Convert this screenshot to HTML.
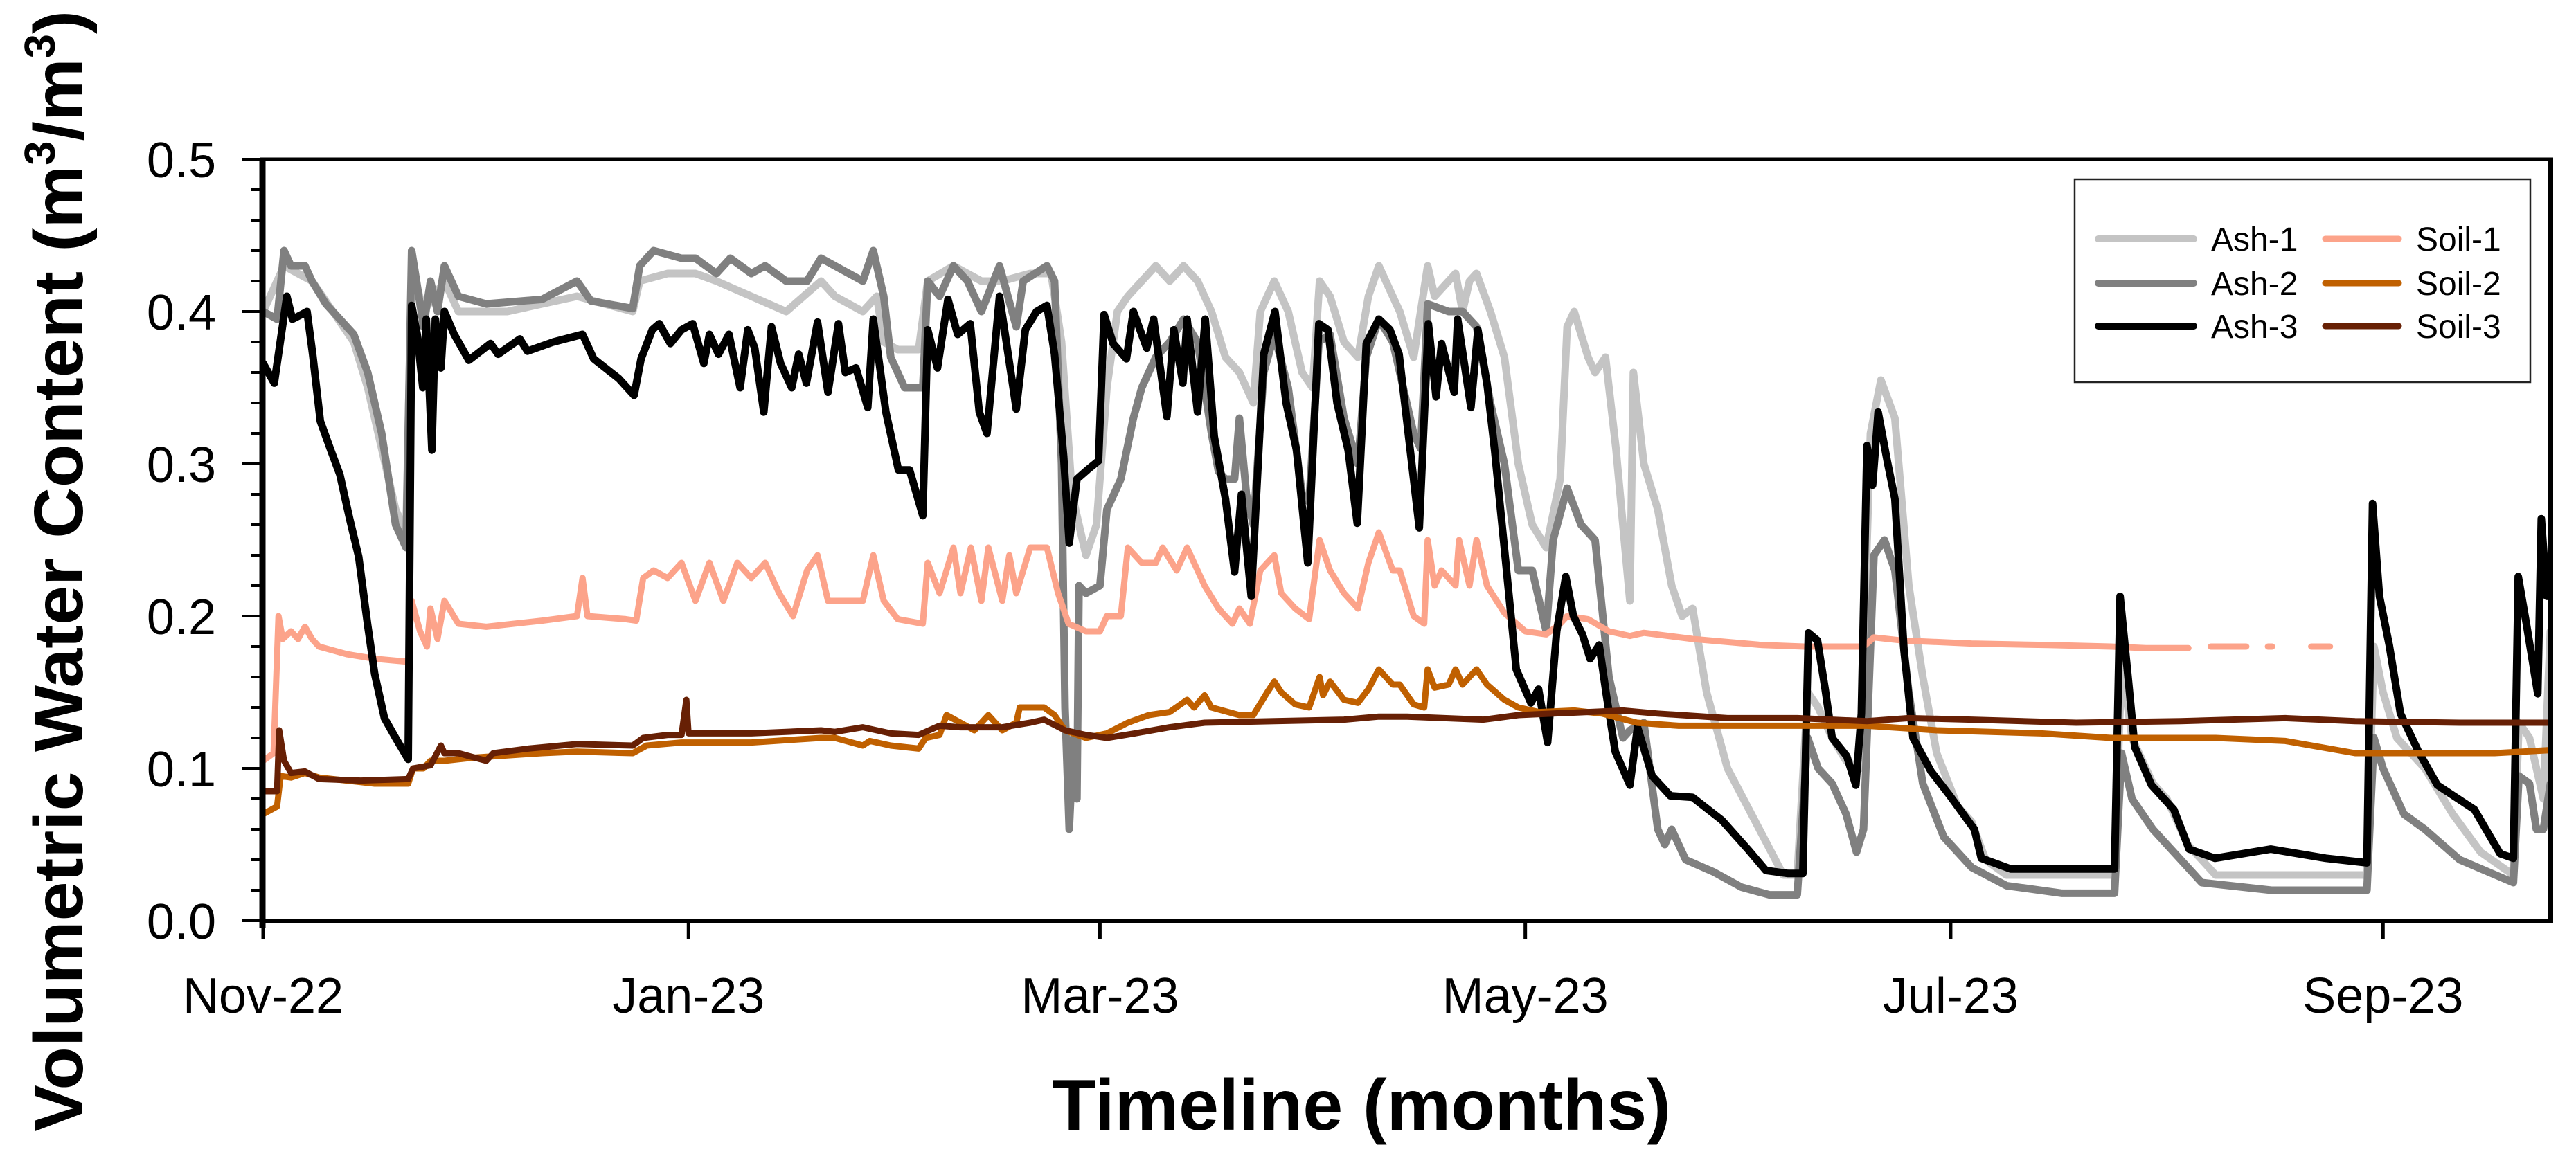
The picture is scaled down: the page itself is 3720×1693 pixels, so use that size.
<!DOCTYPE html>
<html><head><meta charset="utf-8"><style>
html,body{margin:0;padding:0;background:#fff;}
svg{display:block;font-family:"Liberation Sans",Arial,sans-serif;}
</style></head><body>
<svg id="chart" width="3720" height="1693" viewBox="0 0 3720 1693" xmlns="http://www.w3.org/2000/svg">
<defs><clipPath id="plotclip"><rect x="383" y="232" width="3296" height="1096"/></clipPath></defs>
<rect width="3720" height="1693" fill="#fff"/>
<g id="series" clip-path="url(#plotclip)"></g>
<g id="axes"></g>
<text x="1966" y="1632" font-size="104" font-weight="bold" text-anchor="middle">Timeline (months)</text>
<text transform="translate(119,825) rotate(-90)" font-size="100" font-weight="bold" text-anchor="middle" textLength="1620" lengthAdjust="spacingAndGlyphs">Volumetric Water Content (m<tspan font-size="62" dy="-40">3</tspan><tspan dy="40">/m</tspan><tspan font-size="62" dy="-40">3</tspan><tspan dy="40">)</tspan></text>
<g>
<rect x="2996" y="259" width="658" height="293" fill="#fff" stroke="#222" stroke-width="2.5"/>
<line x1="3030" y1="345" x2="3168" y2="345" stroke="#c4c4c4" stroke-width="10" stroke-linecap="round"/>
<text x="3193" y="362" font-size="48">Ash-1</text>
<line x1="3030" y1="409" x2="3168" y2="409" stroke="#808080" stroke-width="10" stroke-linecap="round"/>
<text x="3193" y="426" font-size="48">Ash-2</text>
<line x1="3030" y1="471" x2="3168" y2="471" stroke="#000" stroke-width="10" stroke-linecap="round"/>
<text x="3193" y="488" font-size="48">Ash-3</text>
<line x1="3358" y1="345" x2="3464" y2="345" stroke="#fca38a" stroke-width="9" stroke-linecap="round"/>
<text x="3489" y="362" font-size="48">Soil-1</text>
<line x1="3358" y1="409" x2="3464" y2="409" stroke="#c06000" stroke-width="9" stroke-linecap="round"/>
<text x="3489" y="426" font-size="48">Soil-2</text>
<line x1="3358" y1="471" x2="3464" y2="471" stroke="#672005" stroke-width="9" stroke-linecap="round"/>
<text x="3489" y="488" font-size="48">Soil-3</text>
</g>
</svg>
<script>
// ---- data (day index from 1 Nov 2022, VWC m3/m3) ----
const xTickDays = [0, 61, 120, 181, 242, 304];
const xTickLabels = ["Nov-22", "Jan-23", "Mar-23", "May-23", "Jul-23", "Sep-23"];
const yTickValues = [0, 0.1, 0.2, 0.3, 0.4, 0.5];
const yTickLabels = ["0.0", "0.1", "0.2", "0.3", "0.4", "0.5"];

const ash1Days = [0,3,7,10,13,15,17,19,20.5,21.3,23,26,28,35,45,53,54,58,62,65,70,75,80,82,86,88,89,91,94,95.3,99,103,106,110,113,114.5,116,118,119.5,121,122.5,124,126,128,130,132,134,136,138,140,142,143,145,147,149,150.5,151.5,153,155,157,158.5,160,162,163,165,167,168,170,171,172,173,174,176,178,180,182,184,186,187,188,190,191,192.5,194,196,196.5,198,200,202,203.5,205,207,210,214,218,220,221.5,223,225,227,229,230.5,232,234,236,238,240,243,245,247,250,265.5,266.5,268,271,273,276,280,290,301.7,302.7,304,306,310,314,318,322.7,323.5,325,327,328];
const ash1Vals = [0.40,0.43,0.42,0.40,0.38,0.35,0.31,0.27,0.255,0.43,0.40,0.42,0.40,0.40,0.41,0.40,0.42,0.425,0.425,0.42,0.41,0.40,0.42,0.41,0.40,0.41,0.38,0.375,0.375,0.42,0.43,0.42,0.42,0.425,0.425,0.38,0.28,0.24,0.26,0.35,0.40,0.41,0.42,0.43,0.42,0.43,0.42,0.40,0.37,0.36,0.34,0.40,0.42,0.40,0.36,0.35,0.42,0.41,0.38,0.37,0.41,0.43,0.41,0.40,0.37,0.43,0.41,0.42,0.425,0.40,0.42,0.425,0.40,0.37,0.30,0.26,0.245,0.29,0.39,0.40,0.37,0.36,0.37,0.31,0.21,0.36,0.30,0.27,0.22,0.20,0.205,0.15,0.10,0.065,0.03,0.03,0.15,0.14,0.12,0.105,0.10,0.32,0.355,0.33,0.22,0.16,0.11,0.075,0.065,0.04,0.03,0.03,0.17,0.12,0.09,0.08,0.05,0.03,0.03,0.03,0.18,0.15,0.12,0.10,0.07,0.045,0.03,0.13,0.12,0.08,0.19];

const ash2Days = [0,2,3,4,5,6,7,9,11,13,15,17,18,19,20.5,21.3,22,23,24,25,26,28,32,40,45,47,53,54,56,60,62,65,67,70,72,75,78,80,82,86,87.5,89,90,92,94.6,95.3,97,99,101,103,105.6,108,109,112.4,113.5,114.5,115,115.6,116.2,116.7,117,118,120,121,123,124.8,126,128,130,132,134,136,137,138,139.3,140,141,142,143.5,145,147,149,150,151.4,153,155,157,158.2,160,162,163,165,166,167,170,172,174,176,178,180,182,184,185,187,189,191,193,195,196,198,200,201,202,204,208,212,216,220,221.5,223,225,227,228.5,229.5,231,232.5,234,236,238,241,245,250,258,265.5,266.5,268,271,274,278,288,301.7,302.7,304,307,310,315,322.7,323.5,325,326,327,328];
const ash2Vals = [0.40,0.395,0.44,0.43,0.43,0.43,0.42,0.405,0.395,0.385,0.36,0.32,0.29,0.26,0.245,0.44,0.42,0.39,0.42,0.40,0.43,0.41,0.405,0.408,0.42,0.407,0.402,0.43,0.44,0.435,0.435,0.425,0.435,0.425,0.43,0.42,0.42,0.435,0.43,0.42,0.44,0.41,0.37,0.35,0.35,0.42,0.41,0.43,0.42,0.40,0.43,0.39,0.42,0.43,0.42,0.30,0.14,0.06,0.12,0.08,0.22,0.215,0.22,0.27,0.29,0.33,0.35,0.37,0.38,0.395,0.38,0.32,0.295,0.29,0.29,0.33,0.28,0.26,0.36,0.385,0.35,0.28,0.275,0.38,0.385,0.33,0.30,0.37,0.395,0.38,0.36,0.32,0.31,0.405,0.40,0.40,0.39,0.34,0.30,0.23,0.23,0.19,0.25,0.284,0.26,0.25,0.16,0.12,0.125,0.13,0.06,0.05,0.06,0.04,0.032,0.022,0.017,0.017,0.12,0.10,0.09,0.07,0.045,0.06,0.24,0.25,0.23,0.15,0.09,0.055,0.035,0.023,0.018,0.018,0.11,0.08,0.06,0.045,0.025,0.02,0.02,0.12,0.10,0.07,0.06,0.04,0.025,0.095,0.09,0.06,0.06,0.09];

const ash3Days = [0,1.6,3.4,4.2,5.5,6.3,7.1,8.2,9.7,11,12.4,13.7,15,16,17.4,19,20.8,21.3,22.1,22.9,23.4,24.2,24.7,25.5,26,27.4,29.5,32.6,33.7,36.8,37.9,41.6,45.8,47.4,51,53.2,54.2,55.8,56.8,58.4,60,61.6,63.2,64,65.3,66.8,68.4,69.5,70.5,71.8,72.9,74.2,75.8,76.8,77.9,79.5,81,82.5,83.5,85,86.7,87.5,89.3,91.1,92.7,94.6,95.3,96.7,98.2,99.6,101.4,102.7,103.8,105.6,108,109.3,110.9,112.4,113.5,114.8,115.6,116.7,118.2,119.8,120.6,121.9,123.8,124.8,126.7,127.7,129.6,130.6,131.9,132.5,134,135.1,136.4,138,139.3,140.3,141.7,143.5,145.1,146.7,148.2,149.8,151.4,152.7,154,155.6,156.9,158.2,160,161.6,162.9,164.5,165.8,167.1,168.2,169,170.8,171.3,173.2,174.2,175.5,176.6,178.2,179.7,181.8,182.9,184.2,185.5,186.8,187.9,189.2,190.3,191.6,192.6,193.9,196,197.1,199.2,201.8,205,209.2,212.9,215.5,218.7,220.8,221.6,222.9,224,225,227.1,228.4,229.2,230,230.8,231.6,232.9,234,235.3,236.6,239.2,241.9,245.4,246.4,250.6,258.6,265.5,266.3,267.4,268.4,270.8,274,276.2,279.9,287.9,295.8,301.7,302.5,303.5,304.9,306.5,309.1,311.8,317.1,320.8,322.7,323.4,324.6,326.2,326.7,327.5];
const ash3Vals = [0.366,0.353,0.41,0.395,0.398,0.40,0.372,0.328,0.309,0.293,0.264,0.239,0.194,0.162,0.133,0.12,0.106,0.404,0.385,0.35,0.395,0.309,0.395,0.363,0.40,0.385,0.368,0.379,0.372,0.382,0.374,0.38,0.385,0.369,0.356,0.345,0.369,0.388,0.392,0.379,0.388,0.392,0.366,0.385,0.372,0.385,0.35,0.388,0.376,0.334,0.39,0.366,0.35,0.372,0.353,0.393,0.347,0.392,0.36,0.363,0.337,0.395,0.334,0.296,0.296,0.266,0.388,0.363,0.408,0.385,0.392,0.334,0.32,0.41,0.336,0.388,0.40,0.404,0.372,0.305,0.248,0.29,0.296,0.302,0.398,0.379,0.369,0.40,0.376,0.395,0.331,0.388,0.353,0.395,0.334,0.395,0.318,0.277,0.229,0.28,0.213,0.372,0.40,0.34,0.309,0.235,0.392,0.388,0.34,0.309,0.261,0.379,0.395,0.388,0.372,0.309,0.258,0.392,0.344,0.379,0.347,0.395,0.337,0.388,0.353,0.309,0.235,0.165,0.143,0.152,0.117,0.19,0.226,0.20,0.188,0.172,0.181,0.149,0.111,0.089,0.127,0.095,0.082,0.081,0.066,0.047,0.033,0.031,0.031,0.189,0.184,0.152,0.12,0.108,0.089,0.136,0.312,0.286,0.334,0.302,0.277,0.178,0.12,0.098,0.082,0.06,0.041,0.034,0.034,0.034,0.213,0.162,0.114,0.089,0.073,0.047,0.041,0.047,0.041,0.038,0.274,0.213,0.181,0.136,0.111,0.089,0.073,0.044,0.041,0.226,0.194,0.149,0.264,0.213];

// NaN marks a gap in the logged record
const soil1Days = [0,1.5,2.2,2.8,4,5,6,7,8,12,16,20.8,21.3,22.5,23.5,24,25,26,28,32,40,45,45.8,46.5,52,53.5,54.5,56,58,60,62,64,66,68,70,72,74,76,78,79.5,81,84,86,87.5,89,91,94.6,95.3,97,99,100,101.5,103,104,106,107,108,110,112.4,114,115.5,118,120,121,123,124,126,128,129,131,132.5,135,137,139,140,141.5,143,145,146,148,150,151.5,153,155,157,158.5,160,162,163,165,166.5,167,168,169,171,171.5,173,174,175.5,178,181,184,186,187,190,193,196,198,205,215,221,229.5,231,235,245,256,265,270,276.1,277,279.3,284.4,286,287.5,288.1,290,293.7,296.4];
const soil1Vals = [0.105,0.11,0.20,0.185,0.19,0.185,0.193,0.185,0.18,0.175,0.172,0.17,0.21,0.19,0.18,0.205,0.185,0.21,0.195,0.193,0.197,0.20,0.225,0.20,0.198,0.197,0.225,0.23,0.225,0.235,0.21,0.235,0.21,0.235,0.225,0.235,0.215,0.20,0.23,0.24,0.21,0.21,0.21,0.24,0.21,0.198,0.195,0.235,0.215,0.245,0.215,0.245,0.21,0.245,0.21,0.24,0.215,0.245,0.245,0.215,0.195,0.19,0.19,0.20,0.20,0.245,0.235,0.235,0.245,0.23,0.245,0.22,0.205,0.195,0.205,0.195,0.23,0.24,0.215,0.205,0.198,0.25,0.23,0.215,0.205,0.235,0.255,0.23,0.23,0.20,0.195,0.25,0.22,0.23,0.22,0.25,0.22,0.25,0.22,0.202,0.19,0.188,0.195,0.20,0.198,0.19,0.187,0.189,0.185,0.181,0.180,0.180,0.186,0.184,0.182,0.181,0.180,0.179,0.179,NaN,0.180,0.180,NaN,0.180,0.180,NaN,0.180,0.180];

const soil2Days = [0,2,2.5,4,6,8,12,16,20.8,21.5,23,24,26,30,40,45,53,55,60,70,80,82,86,87,90,94,95,97,98,100,102,104,106,108,108.5,110,112,113.5,115,118,121,124,127,130,132.5,133.5,135,136,140,142,144,145,146,148,150,151.5,152,153,155,157,158.5,160,162,163,165,166.5,167,168,170,171,172,174,175.5,178,180,183,188,192,197,203,210,220,230,240,255,265,280,290,295,300,310,320,328];
const soil2Vals = [0.07,0.075,0.095,0.094,0.097,0.094,0.092,0.09,0.09,0.10,0.10,0.105,0.105,0.107,0.11,0.111,0.11,0.115,0.117,0.117,0.12,0.12,0.115,0.118,0.115,0.113,0.12,0.122,0.135,0.13,0.125,0.135,0.125,0.13,0.14,0.14,0.14,0.135,0.125,0.12,0.123,0.13,0.135,0.137,0.145,0.14,0.148,0.14,0.135,0.135,0.15,0.157,0.15,0.142,0.14,0.16,0.148,0.157,0.145,0.143,0.152,0.165,0.155,0.155,0.142,0.14,0.165,0.153,0.155,0.165,0.155,0.165,0.155,0.145,0.14,0.137,0.138,0.136,0.13,0.128,0.128,0.128,0.128,0.125,0.123,0.12,0.12,0.118,0.114,0.11,0.11,0.11,0.112];

const soil3Days = [0,2,2.3,3,4,6,8,14,20.8,21.5,24,25.5,26,28,32,33,38,45,53,54.5,58,60,60.7,61,70,80,82,86,90,94,97,100,106,110,112,115,118,121,125,130,135,145,155,160,164,175,180,185,190,195,200,210,220,230,236,245,260,275,290,300,315,328];
const soil3Vals = [0.085,0.085,0.125,0.105,0.097,0.098,0.093,0.092,0.093,0.100,0.102,0.115,0.11,0.11,0.105,0.11,0.113,0.116,0.115,0.12,0.122,0.122,0.145,0.123,0.123,0.125,0.124,0.127,0.123,0.122,0.128,0.127,0.127,0.13,0.132,0.125,0.122,0.12,0.123,0.127,0.13,0.131,0.132,0.134,0.134,0.132,0.135,0.136,0.137,0.138,0.136,0.133,0.133,0.131,0.133,0.132,0.13,0.131,0.133,0.131,0.13,0.13];

// ---- axes ----
const X0 = 380, PX_PER_DAY = 10.07, Y0 = 1330, Y1 = 230, VMAX = 0.5;
function xScale(d){ return X0 + d * PX_PER_DAY; }
function yScale(v){ return Y0 - (v / VMAX) * (Y0 - Y1); }
const NS = "http://www.w3.org/2000/svg";
function mk(tag, attrs){ const e = document.createElementNS(NS, tag); for (const k in attrs) e.setAttribute(k, attrs[k]); return e; }

const seriesG = document.getElementById('series');
function drawSeries(days, vals, color, width, name){
  let d = "", pen = false;
  for (let i = 0; i < days.length; i++){
    const v = vals[i];
    if (isNaN(v)) { pen = false; continue; }
    const x = xScale(days[i]).toFixed(1), y = yScale(v).toFixed(1);
    d += (pen ? "L" : "M") + x + " " + y + " ";
    pen = true;
  }
  const p = mk('path', {d: d, fill: 'none', stroke: color, 'stroke-width': width, 'stroke-linejoin': 'round', 'stroke-linecap': 'round'});
  
  
  seriesG.appendChild(p);
}
drawSeries(ash1Days, ash1Vals, '#c4c4c4', 11, 'series-ash-1');
drawSeries(ash2Days, ash2Vals, '#808080', 11, 'series-ash-2');
drawSeries(soil1Days, soil1Vals, '#fca38a', 9, 'series-soil-1');
drawSeries(ash3Days, ash3Vals, '#000000', 11, 'series-ash-3');
drawSeries(soil2Days, soil2Vals, '#c06000', 9, 'series-soil-2');
drawSeries(soil3Days, soil3Vals, '#672005', 9, 'series-soil-3');

const axes = document.getElementById('axes');
const frameTop = mk('line', {x1: 376, y1: 230, x2: 3687, y2: 230, stroke: '#000', 'stroke-width': 5});
  axes.appendChild(frameTop);
const frameRight = mk('line', {x1: 3683, y1: 228, x2: 3683, y2: 1333, stroke: '#000', 'stroke-width': 8});
  axes.appendChild(frameRight);
const xAxis = mk('line', {x1: 376, y1: 1330, x2: 3687, y2: 1330, stroke: '#000', 'stroke-width': 6});
  axes.appendChild(xAxis);
const yAxis = mk('line', {x1: 379, y1: 228, x2: 379, y2: 1340, stroke: '#000', 'stroke-width': 9});
  axes.appendChild(yAxis);

for (let k = 0; k <= 25; k++){
  const v = k * 0.02, y = yScale(v), major = (k % 5 === 0);
  const t = mk('line', {x1: major ? 350 : 362, y1: y, x2: 379, y2: y, stroke: '#000', 'stroke-width': 4});
  
  
  axes.appendChild(t);
}
yTickValues.forEach((v, i) => {
  const t = mk('text', {x: 312, y: yScale(v) + 26, 'font-size': 72, 'text-anchor': 'end'});
  t.textContent = yTickLabels[i];
  
  
  axes.appendChild(t);
});
xTickDays.forEach((d, i) => {
  const x = xScale(d);
  const t = mk('line', {x1: x, y1: 1330, x2: x, y2: 1357, stroke: '#000', 'stroke-width': 5});
  
  
  axes.appendChild(t);
  const l = mk('text', {x: x, y: 1463, 'font-size': 72, 'text-anchor': 'middle'});
  l.textContent = xTickLabels[i];
  
  
  axes.appendChild(l);
});
</script>
</body></html>
